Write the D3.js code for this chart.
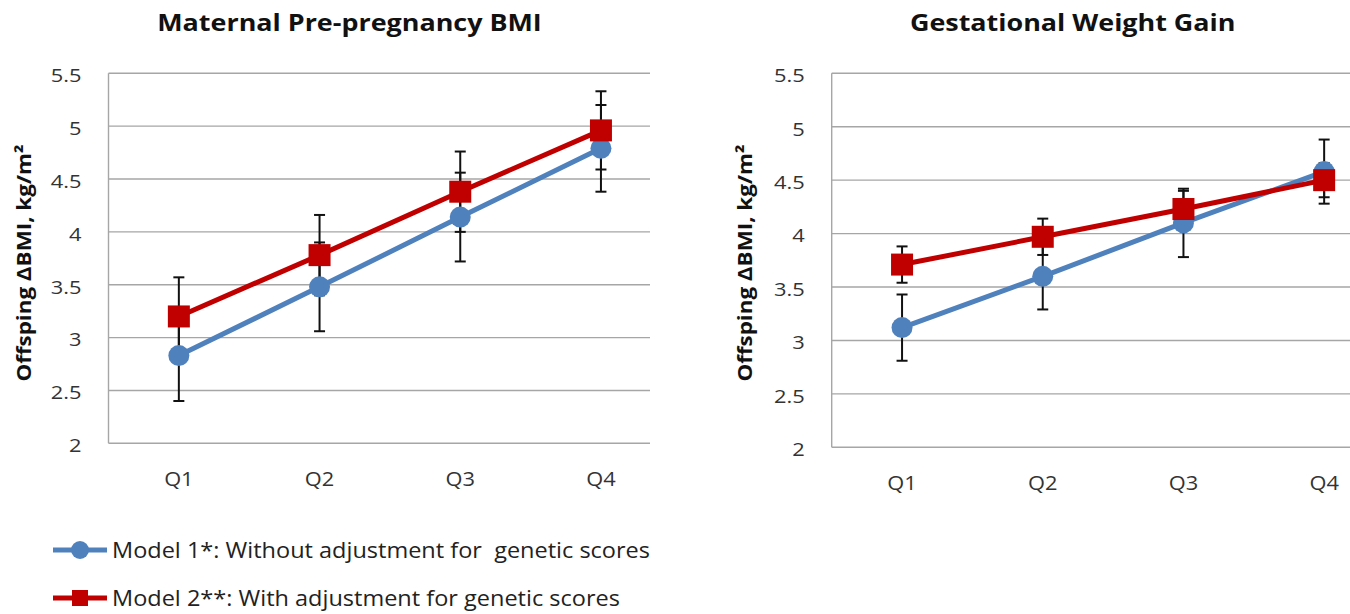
<!DOCTYPE html>
<html>
<head>
<meta charset="utf-8">
<script src="https://cdn.jsdelivr.net/npm/d3@7"></script>
<style>
  body { margin: 0; background: #fff; }
  text { font-family: "Open Sans", "DejaVu Sans", sans-serif; }
</style>
</head>
<body>
<div id="chart"></div>
<script>
// categories and ticks
var quartiles = ["Q1", "Q2", "Q3", "Q4"];
var yTicks = [2, 2.5, 3, 3.5, 4, 4.5, 5, 5.5];

// Maternal pre-pregnancy BMI panel
var bmiModel1 = [2.83, 3.48, 4.14, 4.79];
var bmiModel1Err = [0.43, 0.42, 0.42, 0.41];
var bmiModel2 = [3.20, 3.78, 4.38, 4.96];
var bmiModel2Err = [0.37, 0.38, 0.38, 0.37];

// Gestational weight gain panel
var gwgModel1 = [3.12, 3.60, 4.10, 4.58];
var gwgModel1Err = [0.31, 0.31, 0.32, 0.30];
var gwgModel2 = [3.71, 3.97, 4.23, 4.50];
var gwgModel2Err = [0.17, 0.17, 0.17, 0.16];

var legendLabels = ["Model 1*: Without adjustment for  genetic scores",
                    "Model 2**: With adjustment for genetic scores"];

var blue = "#4f81bd", red = "#c00000", gridColor = "#a6a6a6";

var width = 1350, height = 614;

var svg = d3.select("#chart")
            .append("svg")
            .attr("width", width)
            .attr("height", height);

// the source figure has its text stretched sideways a bit
function stretch(x, y, sx) {
     return "translate(" + x + "," + y + ") scale(" + sx + ",1)";
}

function panel(opts) {
     var g = svg.append("g").attr("transform", "translate(" + opts.left + "," + opts.top + ")");

     var x = d3.scaleBand()
               .domain(quartiles)
               .range([0, 4 * 140.7]);

     var y = d3.scaleLinear()
               .domain([2, 5.5])
               .range([opts.height, 0]);

     var cx = function(d, i) { return x(quartiles[i]) + x.bandwidth() / 2; };

     // gridlines
     g.append("g")
      .selectAll("line")
      .data(yTicks)
      .enter().append("line")
      .attr("x1", 0)
      .attr("x2", opts.gridWidth)
      .attr("y1", function(d) { return y(d); })
      .attr("y2", function(d) { return y(d); })
      .attr("stroke", gridColor)
      .attr("stroke-width", 1.4);

     g.append("line")
      .attr("x1", 0).attr("x2", 0)
      .attr("y1", 0).attr("y2", opts.height)
      .attr("stroke", gridColor)
      .attr("stroke-width", 1.4);

     // y tick labels
     g.append("g")
      .selectAll("text")
      .data(yTicks)
      .enter().append("text")
      .attr("transform", function(d) { return stretch(-27, y(d) + 2, 1.15); })
      .attr("dy", "0.36em")
      .attr("text-anchor", "end")
      .style("font-size", "19px")
      .style("fill", "#333")
      .text(function(d) { return d3.format("")(d); });

     // x labels
     g.append("g")
      .selectAll("text")
      .data(quartiles)
      .enter().append("text")
      .attr("transform", function(d) { return stretch(x(d) + x.bandwidth() / 2, opts.height + 43, 1.12); })
      .attr("text-anchor", "middle")
      .style("font-size", "19.5px")
      .style("fill", "#333")
      .text(function(d) { return d; });

     // titles
     g.append("text")
      .attr("transform", stretch(241, 31 - opts.top, 1.17))
      .attr("text-anchor", "middle")
      .style("font-size", "23px")
      .style("font-weight", "bold")
      .style("fill", "#111")
      .text(opts.title);

     g.append("text")
      .attr("transform", "translate(" + (opts.yTitleX - opts.left) + "," + (263 - opts.top) + ") rotate(-90) scale(1.12,1)")
      .attr("text-anchor", "middle")
      .style("font-size", "20px")
      .style("font-weight", "bold")
      .style("fill", "#111")
      .text("Offsping ΔBMI, kg/m²");

     var line = d3.line()
                  .x(cx)
                  .y(function(d) { return y(d); });

     opts.series.forEach(function(s) {
          g.append("path")
           .datum(s.values)
           .attr("d", line)
           .attr("fill", "none")
           .attr("stroke", s.color)
           .attr("stroke-width", 5);
     });

     // error bars
     opts.series.forEach(function(s) {
          var eb = g.append("g").selectAll("g")
                    .data(s.values)
                    .enter().append("g")
                    .attr("stroke", "#111")
                    .attr("stroke-width", 2);
          eb.append("line")
            .attr("x1", cx).attr("x2", cx)
            .attr("y1", function(d, i) { return y(d - s.err[i]); })
            .attr("y2", function(d, i) { return y(d + s.err[i]); });
          [-1, 1].forEach(function(sign) {
               eb.append("line")
                 .attr("x1", function(d, i) { return cx(d, i) - 5.5; })
                 .attr("x2", function(d, i) { return cx(d, i) + 5.5; })
                 .attr("y1", function(d, i) { return y(d + sign * s.err[i]); })
                 .attr("y2", function(d, i) { return y(d + sign * s.err[i]); });
          });
     });

     // markers
     opts.series.forEach(function(s) {
          var m = g.append("g").selectAll("path")
                   .data(s.values)
                   .enter();
          if (s.shape === "circle") {
               m.append("circle")
                .attr("cx", cx)
                .attr("cy", function(d) { return y(d); })
                .attr("r", 10.5)
                .attr("fill", s.color);
          } else {
               m.append("rect")
                .attr("x", function(d, i) { return cx(d, i) - 11; })
                .attr("y", function(d) { return y(d) - 11; })
                .attr("width", 22)
                .attr("height", 22)
                .attr("fill", s.color);
          }
     });
}

panel({
     left: 108.5, top: 73.3, height: 370, gridWidth: 541.5, yTitleX: 31,
     title: "Maternal Pre-pregnancy BMI",
     series: [
          {values: bmiModel1, err: bmiModel1Err, color: blue, shape: "circle"},
          {values: bmiModel2, err: bmiModel2Err, color: red, shape: "square"}
     ]
});

panel({
     left: 831.7, top: 73.3, height: 374, gridWidth: 520, yTitleX: 752,
     title: "Gestational Weight Gain",
     series: [
          {values: gwgModel1, err: gwgModel1Err, color: blue, shape: "circle"},
          {values: gwgModel2, err: gwgModel2Err, color: red, shape: "square"}
     ]
});

// legend
var legend = svg.append("g")
                .selectAll("g")
                .data(legendLabels)
                .enter().append("g")
                .attr("transform", function(d, i) { return "translate(53," + (550 + i * 48) + ")"; });

legend.append("line")
      .attr("x1", 0).attr("x2", 54)
      .attr("stroke", function(d, i) { return i === 0 ? blue : red; })
      .attr("stroke-width", 5);

legend.filter(function(d, i) { return i === 0; })
      .append("circle")
      .attr("cx", 27).attr("r", 9)
      .attr("fill", blue);

legend.filter(function(d, i) { return i === 1; })
      .append("rect")
      .attr("x", 19).attr("y", -8)
      .attr("width", 16).attr("height", 16)
      .attr("fill", red);

legend.append("text")
      .attr("transform", stretch(59, 0, 1.12))
      .attr("dy", "0.36em")
      .style("font-size", "21px")
      .style("fill", "#222")
      .style("white-space", "pre")
      .text(function(d) { return d; });
</script>
</body>
</html>
